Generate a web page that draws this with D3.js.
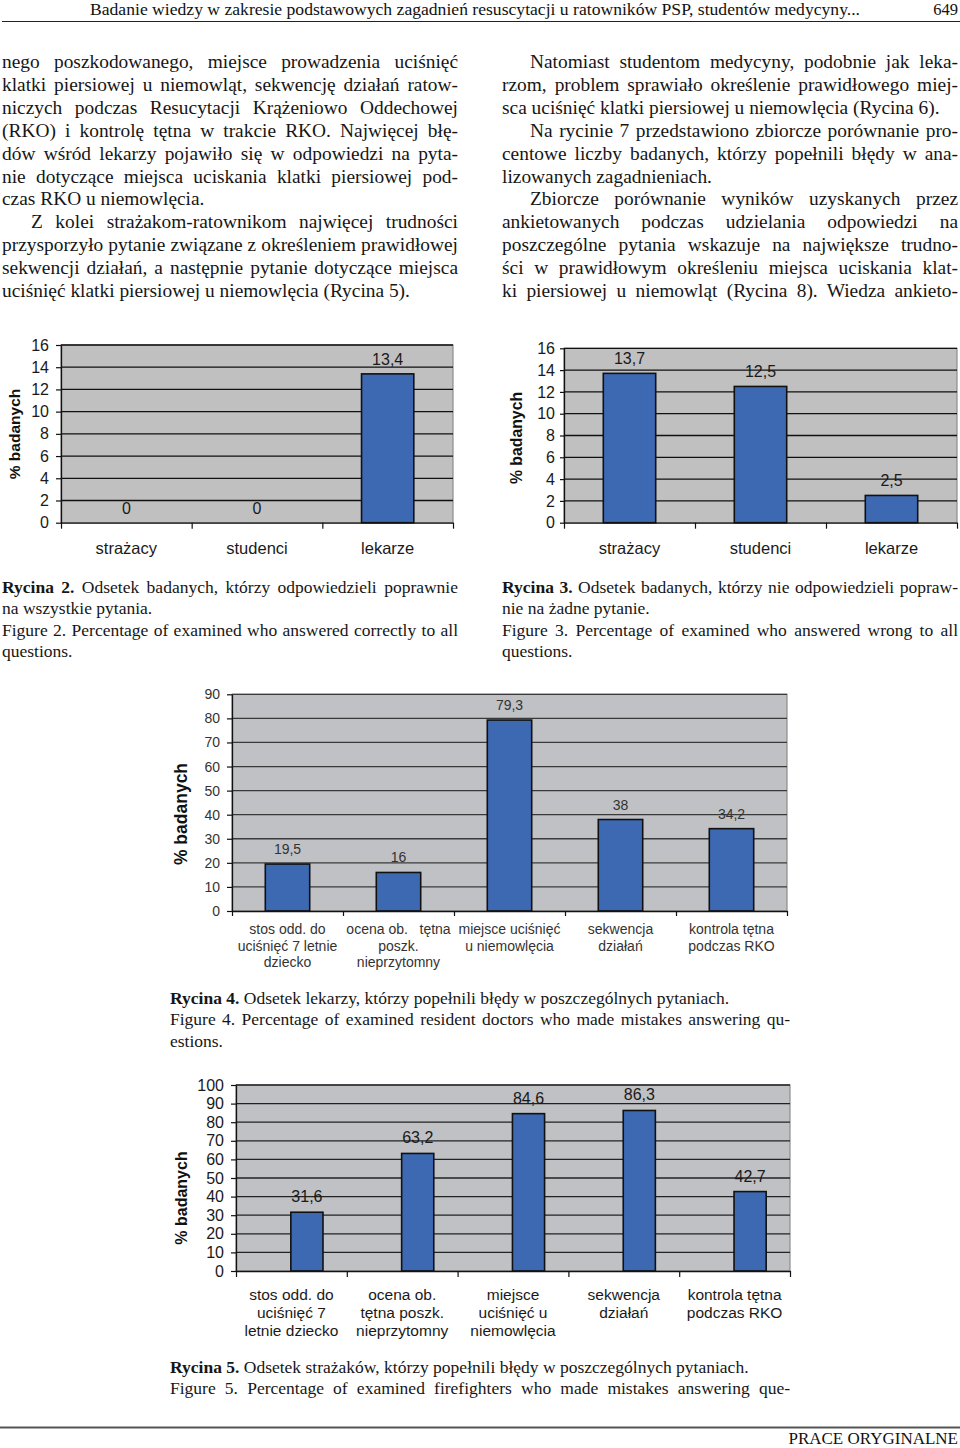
<!DOCTYPE html>
<html><head><meta charset="utf-8">
<script src="https://cdn.jsdelivr.net/npm/d3@7"></script>
<style>
html,body{margin:0;padding:0;background:#fff;}
svg{display:block;}
</style></head><body>
<svg id="page" width="960" height="1448"></svg>
<script>
// ---------- DATA ----------
const groupCategories = ["strażacy", "studenci", "lekarze"];
const fig2Values = [0, 0, 13.4];          // Rycina 2: answered all correctly
const fig3Values = [13.7, 12.5, 2.5];     // Rycina 3: answered none correctly
const smallTicks = [0, 2, 4, 6, 8, 10, 12, 14, 16];

const fig4Categories = [
  ["stos odd. do", "uciśnięć 7 letnie", "dziecko"],
  ["ocena ob.   tętna", "poszk.", "nieprzytomny"],
  ["miejsce uciśnięć", "u niemowlęcia"],
  ["sekwencja", "działań"],
  ["kontrola tętna", "podczas RKO"]
];
const fig4Values = [19.5, 16, 79.3, 38, 34.2];   // lekarze
const fig4Ticks = [0, 10, 20, 30, 40, 50, 60, 70, 80, 90];

const fig5Categories = [
  ["stos odd. do", "uciśnięć 7", "letnie dziecko"],
  ["ocena ob.", "tętna poszk.", "nieprzytomny"],
  ["miejsce", "uciśnięć u", "niemowlęcia"],
  ["sekwencja", "działań"],
  ["kontrola tętna", "podczas RKO"]
];
const fig5Values = [31.6, 63.2, 84.6, 86.3, 42.7];  // strażacy
const fig5Ticks = [0, 10, 20, 30, 40, 50, 60, 70, 80, 90, 100];

const axisTitle = "% badanych";

const headerText = "Badanie wiedzy w zakresie podstawowych zagadnień resuscytacji u ratowników PSP, studentów medycyny...";
const pageNumber = "649";
const footerText = "PRACE ORYGINALNE";

const leftColumn = [
  {t: "nego poszkodowanego, miejsce prowadzenia uciśnięć", j: 1},
  {t: "klatki piersiowej u niemowląt, sekwencję działań ratow-", j: 1},
  {t: "niczych podczas Resucytacji Krążeniowo Oddechowej", j: 1},
  {t: "(RKO) i kontrolę tętna w trakcie RKO. Najwięcej błę-", j: 1},
  {t: "dów wśród lekarzy pojawiło się w odpowiedzi na pyta-", j: 1},
  {t: "nie dotyczące miejsca uciskania klatki piersiowej pod-", j: 1},
  {t: "czas RKO u niemowlęcia.", j: 0},
  {t: "Z kolei strażakom-ratownikom najwięcej trudności", j: 1, ind: 1},
  {t: "przysporzyło pytanie związane z określeniem prawidłowej", j: 1},
  {t: "sekwencji działań, a następnie pytanie dotyczące miejsca", j: 1},
  {t: "uciśnięć klatki piersiowej u niemowlęcia (Rycina 5).", j: 0}
];
const rightColumn = [
  {t: "Natomiast studentom medycyny, podobnie jak leka-", j: 1, ind: 1},
  {t: "rzom, problem sprawiało określenie prawidłowego miej-", j: 1},
  {t: "sca uciśnięć klatki piersiowej u niemowlęcia (Rycina 6).", j: 0},
  {t: "Na rycinie 7 przedstawiono zbiorcze porównanie pro-", j: 1, ind: 1},
  {t: "centowe liczby badanych, którzy popełnili błędy w ana-", j: 1},
  {t: "lizowanych zagadnieniach.", j: 0},
  {t: "Zbiorcze porównanie wyników uzyskanych przez", j: 1, ind: 1},
  {t: "ankietowanych podczas udzielania odpowiedzi na", j: 1},
  {t: "poszczególne pytania wskazuje na największe trudno-", j: 1},
  {t: "ści w prawidłowym określeniu miejsca uciskania klat-", j: 1},
  {t: "ki piersiowej u niemowląt (Rycina 8). Wiedza ankieto-", j: 1}
];
const caption2 = [
  {b: "Rycina 2.", t: " Odsetek badanych, którzy odpowiedzieli poprawnie", j: 1},
  {t: "na wszystkie pytania.", j: 0},
  {t: "Figure 2. Percentage of examined who answered correctly to all", j: 1},
  {t: "questions.", j: 0}
];
const caption3 = [
  {b: "Rycina 3.", t: " Odsetek badanych, którzy nie odpowiedzieli popraw-", j: 1},
  {t: "nie na żadne pytanie.", j: 0},
  {t: "Figure 3. Percentage of examined who answered wrong to all", j: 1},
  {t: "questions.", j: 0}
];
const caption4 = [
  {b: "Rycina 4.", t: " Odsetek lekarzy, którzy popełnili błędy w poszczególnych pytaniach.", j: 0},
  {t: "Figure 4. Percentage of examined resident doctors who made mistakes answering qu-", j: 1},
  {t: "estions.", j: 0}
];
const caption5 = [
  {b: "Rycina 5.", t: " Odsetek strażaków, którzy popełnili błędy w poszczególnych pytaniach.", j: 0},
  {t: "Figure 5. Percentage of examined firefighters who made mistakes answering que-", j: 1}
];

// ---------- DRAWING ----------
const SERIF = "'Liberation Serif', 'Times New Roman', serif";
const SANS = "'Liberation Sans', Arial, sans-serif";
const BAR = "#3d69b3";
const svg = d3.select("#page");

function textBlock(lines, x, y0, width, lh, size, indent) {
  const g = svg.append("g");
  lines.forEach((L, i) => {
    const lx = x + (L.ind ? indent : 0);
    const w = width - (L.ind ? indent : 0);
    const t = g.append("text").attr("x", lx).attr("y", y0 + i * lh)
      .attr("font-family", SERIF).attr("font-size", size).attr("fill", "#161616")
      .style("white-space", "pre");
    if (L.b) t.append("tspan").attr("font-weight", "bold").text(L.b);
    t.append("tspan").text(L.t);
    if (L.j) {
      const natural = t.node().getComputedTextLength();
      const full = (L.b || "") + L.t;
      const spaces = (full.match(/ /g) || []).length;
      if (spaces > 0) t.style("word-spacing", ((w - natural) / spaces) + "px");
    }
  });
}

// header
svg.append("text").attr("x", 90).attr("y", 15).attr("font-family", SERIF)
  .attr("font-size", 16.5).attr("fill", "#111")
  .attr("textLength", 770).attr("lengthAdjust", "spacingAndGlyphs").text(headerText);
svg.append("text").attr("x", 958).attr("y", 15).attr("text-anchor", "end")
  .attr("font-family", SERIF).attr("font-size", 16.5).attr("fill", "#111").text(pageNumber);
svg.append("line").attr("x1", 2).attr("x2", 960).attr("y1", 21.5).attr("y2", 21.5)
  .attr("stroke", "#222").attr("stroke-width", 1.2);

// body text
textBlock(leftColumn, 2, 68, 456, 22.9, 19.4, 29);
textBlock(rightColumn, 502, 68, 456, 22.9, 19.4, 28);

// captions
textBlock(caption2, 2, 593, 456, 21.4, 17.5, 0);
textBlock(caption3, 502, 593, 456, 21.4, 17.5, 0);
textBlock(caption4, 170, 1004, 620, 21.4, 17.5, 0);
textBlock(caption5, 170, 1373, 620, 21.4, 17.5, 0);

// footer
svg.append("line").attr("x1", 0).attr("x2", 960).attr("y1", 1427.5).attr("y2", 1427.5)
  .attr("stroke", "#555").attr("stroke-width", 2);
svg.append("text").attr("x", 958).attr("y", 1444).attr("text-anchor", "end")
  .attr("font-family", SERIF).attr("font-size", 17).attr("fill", "#111").text(footerText);

const fmt = v => String(v).replace(".", ",");

function barChart(cfg, cats, vals, ticks) {
  const g = svg.append("g");
  const n = cats.length;
  const x = d3.scaleBand().domain(d3.range(n)).range([cfg.left, cfg.right]);
  const y = d3.scaleLinear().domain([0, cfg.max]).range([cfg.bottom, cfg.top]);

  g.append("rect").attr("x", cfg.left).attr("y", cfg.top)
    .attr("width", cfg.right - cfg.left).attr("height", cfg.bottom - cfg.top)
    .attr("fill", cfg.bg).attr("stroke", "#8c8c8c").attr("stroke-width", 1.2);

  g.append("g").selectAll("line").data(ticks.filter(t => t > 0)).join("line")
    .attr("x1", cfg.left).attr("x2", cfg.right)
    .attr("y1", d => y(d)).attr("y2", d => y(d))
    .attr("stroke", cfg.grid).attr("stroke-width", 1.3);

  const bw = x.bandwidth() * cfg.barFrac;
  const cx = i => x(i) + x.bandwidth() * (0.5 + cfg.shift);
  g.append("g").selectAll("rect").data(vals).join("rect")
    .attr("x", (d, i) => cx(i) - bw / 2).attr("y", d => y(d))
    .attr("width", bw).attr("height", d => y(0) - y(d))
    .attr("fill", BAR).attr("stroke", d => d > 0 ? "#111" : "none").attr("stroke-width", 1.6);

  // y axis
  const ya = g.append("g").attr("transform", `translate(${cfg.left},0)`)
    .call(d3.axisLeft(y).tickValues(ticks).tickSize(cfg.tickLen).tickPadding(cfg.tickPad).tickSizeOuter(0));
  ya.attr("font-family", SANS).attr("font-size", cfg.tickFont);
  ya.select(".domain").attr("stroke", "#111").attr("stroke-width", 1.3);
  ya.selectAll(".tick line").attr("stroke", "#111").attr("stroke-width", 1.2);
  ya.selectAll(".tick text").attr("fill", cfg.text);

  // x axis with ticks at category boundaries
  const xb = d3.scaleLinear().domain([0, n]).range([cfg.left, cfg.right]);
  const xa = g.append("g").attr("transform", `translate(0,${cfg.bottom})`)
    .call(d3.axisBottom(xb).tickValues(d3.range(n + 1)).tickSize(cfg.xTickLen).tickSizeOuter(0).tickFormat(""));
  xa.select(".domain").attr("stroke", "#111").attr("stroke-width", 1.3);
  xa.selectAll(".tick line").attr("stroke", "#111").attr("stroke-width", 1.2);

  // value labels
  g.append("g").selectAll("text").data(vals).join("text")
    .attr("x", (d, i) => cx(i)).attr("y", d => y(d) - cfg.valGap)
    .attr("text-anchor", "middle").attr("font-family", SANS)
    .attr("font-size", cfg.valFont).attr("fill", cfg.text).text(fmt);

  // category labels
  const cl = g.append("g").selectAll("text").data(cats).join("text")
    .attr("x", (d, i) => x(i) + x.bandwidth() / 2).attr("y", cfg.catY)
    .attr("text-anchor", "middle").attr("font-family", SANS)
    .attr("font-size", cfg.catFont).attr("fill", cfg.text).style("white-space", "pre");
  cl.each(function (d, i) {
    const lines = Array.isArray(d) ? d : [d];
    const t = d3.select(this);
    lines.forEach((s, k) => t.append("tspan").attr("x", x(i) + x.bandwidth() / 2)
      .attr("y", cfg.catY + k * cfg.catLH).text(s));
  });

  // y title
  g.append("text").attr("transform", `translate(${cfg.ylx},${cfg.lyc}) rotate(-90)`)
    .attr("text-anchor", "middle").attr("dominant-baseline", "central")
    .attr("font-family", SANS).attr("font-weight", "bold").attr("font-size", cfg.ylSize)
    .attr("fill", "#111").text(axisTitle);
}

barChart({left: 61, right: 453, top: 345, bottom: 522.7, max: 16, barFrac: 0.4, shift: 0,
  tickLen: 5, tickPad: 7, tickFont: 16, catFont: 16.5, catY: 554, catLH: 0,
  valFont: 16, valGap: 9, xTickLen: 6, ylx: 14, lyc: 434, ylSize: 15.5,
  bg: "#c0c0c0", grid: "#111", text: "#1a1a1a"}, groupCategories, fig2Values, smallTicks);

barChart({left: 564, right: 957, top: 348.3, bottom: 522.7, max: 16, barFrac: 0.4, shift: 0,
  tickLen: 4, tickPad: 5, tickFont: 16, catFont: 16.5, catY: 554, catLH: 0,
  valFont: 16, valGap: 9, xTickLen: 6, ylx: 516, lyc: 438, ylSize: 15.8,
  bg: "#c0c0c0", grid: "#111", text: "#1a1a1a"}, groupCategories, fig3Values, smallTicks);

barChart({left: 232, right: 787, top: 694.3, bottom: 911, max: 90, barFrac: 0.4, shift: 0,
  tickLen: 5, tickPad: 7, tickFont: 14, catFont: 14, catY: 934, catLH: 16.5,
  valFont: 14, valGap: 10, xTickLen: 5, ylx: 181, lyc: 814, ylSize: 17.5,
  bg: "#c0c1c4", grid: "#3a3a3a", text: "#333"}, fig4Categories, fig4Values, fig4Ticks);

barChart({left: 236, right: 790, top: 1085, bottom: 1271, max: 100, barFrac: 0.29, shift: 0.14,
  tickLen: 5, tickPad: 7, tickFont: 16, catFont: 15.5, catY: 1300, catLH: 18,
  valFont: 16, valGap: 10, xTickLen: 6, ylx: 181, lyc: 1198, ylSize: 16,
  bg: "#c0c1c4", grid: "#222", text: "#1a1a1a"}, fig5Categories, fig5Values, fig5Ticks);
</script>
</body></html>
